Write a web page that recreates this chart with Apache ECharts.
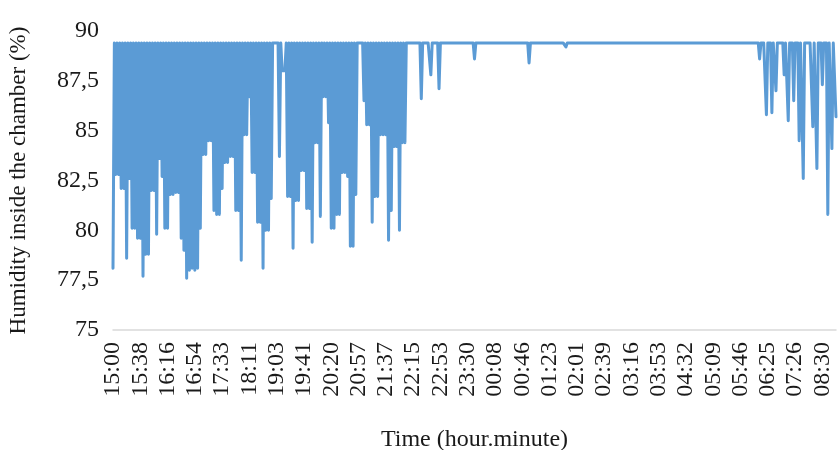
<!DOCTYPE html>
<html>
<head>
<meta charset="utf-8">
<script src="https://cdn.jsdelivr.net/npm/echarts@6/dist/echarts.min.js"></script>
<style>
  html, body { margin: 0; padding: 0; background: #fff; }
  #chart { width: 838px; height: 450px; }
</style>
</head>
<body>
<div id="chart"></div>
<script>
// tick labels shown on the time axis (one every 20 readings)
const tickLabels = [
  '15:00', '15:38', '16:16', '16:54', '17:33', '18:11', '19:03', '19:41', '20:20',
  '20:57', '21:37', '22:15', '22:53', '23:30', '00:08', '00:46', '01:23', '02:01',
  '02:39', '03:16', '03:53', '04:32', '05:09', '05:46', '06:25', '07:26', '08:30'
];
const readingsPerTick = 20;

// humidity readings (%), 20 per row
const humidity = [
  78.1,89.4,82.8,89.4,82.8,89.4,82.1,89.4,82.1,89.4,78.6,89.4,82.6,89.4,80.1,89.4,80.1,89.4,79.6,89.4,
  79.6,89.4,77.7,89.4,78.8,89.4,78.8,89.4,82.0,89.4,82.0,89.4,79.8,89.4,83.6,89.4,82.7,89.4,80.1,89.4,
  80.1,89.4,81.8,89.4,81.8,89.4,81.9,89.4,81.9,89.4,79.6,89.4,79.0,89.4,77.6,89.4,78.0,89.4,78.1,89.4,
  78.0,89.4,78.1,89.4,80.1,89.4,83.8,89.4,83.8,89.4,84.5,89.4,84.5,89.4,81.0,89.4,80.8,89.4,80.8,89.4,
  82.1,89.4,83.4,89.4,83.4,89.4,83.7,89.4,83.7,89.4,81.0,89.4,81.0,89.4,78.5,89.4,84.8,89.4,84.8,89.4,
  86.7,89.4,82.9,89.4,82.9,89.4,80.4,89.4,80.4,89.4,78.1,89.4,80.0,89.4,80.0,89.4,81.6,89.4,89.4,89.4,
  89.4,89.4,83.7,89.4,88.0,88.0,88.0,89.4,81.7,89.4,81.7,89.4,79.1,89.4,81.5,89.4,81.5,89.4,83.0,89.4,
  83.0,89.4,81.1,89.4,81.1,89.4,79.4,89.4,84.4,89.4,84.4,89.4,80.7,89.4,86.7,89.4,86.7,89.4,85.4,89.4,
  80.1,89.4,80.1,89.4,80.8,89.4,80.8,89.4,82.9,89.4,82.9,89.4,82.7,89.4,79.2,89.4,79.2,89.4,81.8,89.4,
  89.4,89.4,89.4,89.4,86.5,89.4,85.3,89.4,85.3,89.4,80.4,89.4,81.7,89.4,81.7,89.4,84.8,89.4,84.8,89.4,
  84.8,89.4,79.5,89.4,81.0,89.4,84.2,89.4,84.2,89.4,80.0,89.4,84.4,89.4,84.4,89.4,89.4,89.4,89.4,89.4,
  89.4,89.4,89.4,89.4,89.4,89.4,86.6,89.4,89.4,89.4,89.4,89.4,89.4,87.8,89.4,89.4,89.4,89.4,89.4,87.1,
  89.4,89.4,89.4,89.4,89.4,89.4,89.4,89.4,89.4,89.4,89.4,89.4,89.4,89.4,89.4,89.4,89.4,89.4,89.4,89.4,
  89.4,89.4,89.4,89.4,89.4,88.6,89.4,89.4,89.4,89.4,89.4,89.4,89.4,89.4,89.4,89.4,89.4,89.4,89.4,89.4,
  89.4,89.4,89.4,89.4,89.4,89.4,89.4,89.4,89.4,89.4,89.4,89.4,89.4,89.4,89.4,89.4,89.4,89.4,89.4,89.4,
  89.4,89.4,89.4,89.4,89.4,88.4,89.4,89.4,89.4,89.4,89.4,89.4,89.4,89.4,89.4,89.4,89.4,89.4,89.4,89.4,
  89.4,89.4,89.4,89.4,89.4,89.4,89.4,89.4,89.4,89.4,89.4,89.4,89.2,89.4,89.4,89.4,89.4,89.4,89.4,89.4,
  89.4,89.4,89.4,89.4,89.4,89.4,89.4,89.4,89.4,89.4,89.4,89.4,89.4,89.4,89.4,89.4,89.4,89.4,89.4,89.4,
  89.4,89.4,89.4,89.4,89.4,89.4,89.4,89.4,89.4,89.4,89.4,89.4,89.4,89.4,89.4,89.4,89.4,89.4,89.4,89.4,
  89.4,89.4,89.4,89.4,89.4,89.4,89.4,89.4,89.4,89.4,89.4,89.4,89.4,89.4,89.4,89.4,89.4,89.4,89.4,89.4,
  89.4,89.4,89.4,89.4,89.4,89.4,89.4,89.4,89.4,89.4,89.4,89.4,89.4,89.4,89.4,89.4,89.4,89.4,89.4,89.4,
  89.4,89.4,89.4,89.4,89.4,89.4,89.4,89.4,89.4,89.4,89.4,89.4,89.4,89.4,89.4,89.4,89.4,89.4,89.4,89.4,
  89.4,89.4,89.4,89.4,89.4,89.4,89.4,89.4,89.4,89.4,89.4,89.4,89.4,89.4,89.4,89.4,89.4,89.4,89.4,89.4,
  89.4,89.4,89.4,89.4,89.4,89.4,89.4,89.4,89.4,89.4,89.4,89.4,89.4,89.4,88.6,89.4,89.4,89.4,89.4,85.8,
  89.4,89.4,89.4,85.9,89.4,89.4,87.0,89.4,89.4,89.4,89.4,89.4,87.8,89.4,89.4,85.5,89.4,89.4,89.4,86.5,
  89.4,89.4,89.4,84.5,89.4,89.4,82.6,89.4,89.4,89.4,89.4,89.4,89.4,85.2,89.4,89.4,83.1,89.4,89.4,89.4,
  87.3,89.4,89.4,89.4,80.8,89.4,89.4,84.1,89.4,89.4,85.7
];

const categories = humidity.map((_, i) => String(i));
const fontFamily = '"Liberation Serif", "Times New Roman", serif';
const textColor = '#1a1a1a';

const chart = echarts.init(document.getElementById('chart'));

const option = {
  animation: false,
  textStyle: { fontFamily },
  grid: { left: 113, right: 2, top: 31, bottom: 120, outerBoundsMode: 'none', containLabel: false },
  xAxis: {
    type: 'category',
    data: categories,
    boundaryGap: false,
    name: 'Time (hour.minute)',
    nameLocation: 'middle',
    nameGap: 98,
    nameTextStyle: { fontSize: 24, color: textColor, fontFamily },
    axisLine: { lineStyle: { color: '#d9d9d9', width: 1.5 } },
    axisTick: { show: false },
    splitLine: { show: false },
    axisLabel: {
      interval: readingsPerTick - 1,
      rotate: 90,
      margin: 12,
      fontSize: 24,
      color: textColor,
      fontFamily,
      formatter: (value, index) => tickLabels[index / readingsPerTick] || ''
    }
  },
  yAxis: {
    type: 'value',
    min: 75,
    max: 90,
    interval: 2.5,
    name: 'Humidity inside the chamber (%)',
    nameLocation: 'middle',
    nameGap: 83,
    nameTextStyle: { fontSize: 23, color: textColor, fontFamily },
    axisLine: { show: false },
    axisTick: { show: false },
    splitLine: { show: false },
    axisLabel: {
      fontSize: 24,
      color: textColor,
      fontFamily,
      margin: 14,
      formatter: (v) => String(v).replace('.', ',')
    }
  },
  series: [
    {
      type: 'line',
      data: humidity,
      symbol: 'none',
      showSymbol: false,
      clip: false,
      lineStyle: { color: '#5B9BD5', width: 3, join: 'round', cap: 'round' }
    }
  ]
};

chart.setOption(option);
</script>
</body>
</html>
